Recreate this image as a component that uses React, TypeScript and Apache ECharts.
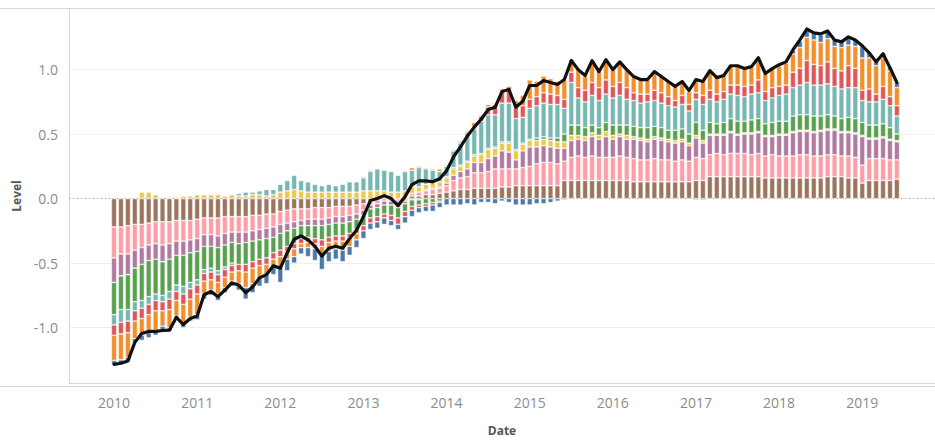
import React, { useEffect, useRef } from 'react';
import * as echarts from 'echarts';

const START_YEAR = 2010;
const MONTH_COUNT = 114; // Jan 2010 .. Jun 2019
const PAD_LEFT = 6;
const PAD_RIGHT = 5;
const LEVEL_TICKS = [-1, -0.5, 0, 0.5, 1];

// monthly contributions, Jan 2010 .. Jun 2019 (114 months)
const BROWN = [
  -0.22, -0.22, -0.21, -0.2, -0.2, -0.19, -0.18, -0.18, -0.18, -0.17, -0.17, -0.17,
  -0.16, -0.15, -0.15, -0.15, -0.14, -0.14, -0.14, -0.14, -0.13, -0.13, -0.12, -0.12,
  -0.1, -0.09, -0.08, -0.08, -0.08, -0.07, -0.07, -0.07, -0.06, -0.06, -0.06, -0.05,
  -0.04, -0.02, -0.01, 0, 0, -0.01, 0.01, 0.02, 0.02, 0.03, 0.03, 0.04,
  0.05, 0.06, 0.07, 0.07, 0.08, 0.08, 0.08, 0.08, 0.09, 0.09, 0.1, 0.1,
  0.1, 0.1, 0.1, 0.1, 0.1, 0.14, 0.14, 0.14, 0.14, 0.14, 0.14, 0.14,
  0.14, 0.14, 0.14, 0.13, 0.13, 0.13, 0.13, 0.13, 0.13, 0.13, 0.13, 0.13,
  0.14, 0.14, 0.17, 0.17, 0.17, 0.17, 0.17, 0.17, 0.17, 0.17, 0.16, 0.16,
  0.16, 0.16, 0.16, 0.16, 0.16, 0.16, 0.16, 0.17, 0.17, 0.17, 0.16, 0.16,
  0.12, 0.14, 0.14, 0.14, 0.14, 0.15,
];
const PINK = [
  -0.24, -0.21, -0.22, -0.2, -0.18, -0.17, -0.17, -0.18, -0.17, -0.16, -0.16, -0.15,
  -0.15, -0.13, -0.13, -0.14, -0.13, -0.12, -0.12, -0.12, -0.12, -0.11, -0.11, -0.1,
  -0.1, -0.1, -0.1, -0.09, -0.08, -0.09, -0.09, -0.08, -0.08, -0.08, -0.07, -0.07,
  -0.05, -0.03, -0.03, -0.02, -0.02, -0.03, -0.02, 0.02, 0.03, 0.03, 0.04, 0.04,
  0.05, 0.08, 0.09, 0.1, 0.12, 0.12, 0.13, 0.15, 0.14, 0.14, 0.13, 0.14,
  0.15, 0.17, 0.18, 0.18, 0.17, 0.15, 0.18, 0.19, 0.18, 0.19, 0.18, 0.18,
  0.18, 0.19, 0.18, 0.18, 0.17, 0.17, 0.18, 0.17, 0.17, 0.16, 0.17, 0.16,
  0.18, 0.17, 0.17, 0.18, 0.17, 0.18, 0.18, 0.18, 0.17, 0.18, 0.17, 0.18,
  0.17, 0.17, 0.17, 0.18, 0.18, 0.17, 0.17, 0.17, 0.17, 0.16, 0.17, 0.16,
  0.14, 0.17, 0.17, 0.17, 0.16, 0.15,
];
const PURPLE = [
  -0.19, -0.17, -0.16, -0.14, -0.13, -0.12, -0.12, -0.13, -0.12, -0.11, -0.11, -0.1,
  -0.1, -0.09, -0.09, -0.09, -0.09, -0.08, -0.09, -0.08, -0.08, -0.08, -0.08, -0.08,
  -0.07, -0.06, -0.05, -0.04, -0.05, -0.05, -0.05, -0.05, -0.05, -0.05, -0.05, -0.04,
  -0.04, -0.03, -0.03, -0.03, -0.03, -0.03, -0.02, -0.01, -0.01, 0.01, 0.01, 0.01,
  0.02, 0.04, 0.05, 0.06, 0.08, 0.08, 0.1, 0.1, 0.14, 0.13, 0.07, 0.13,
  0.15, 0.13, 0.13, 0.12, 0.12, 0.1, 0.13, 0.13, 0.13, 0.15, 0.14, 0.16,
  0.14, 0.15, 0.14, 0.15, 0.15, 0.14, 0.15, 0.15, 0.14, 0.14, 0.14, 0.12,
  0.15, 0.12, 0.15, 0.14, 0.15, 0.16, 0.14, 0.15, 0.16, 0.16, 0.15, 0.14,
  0.16, 0.16, 0.18, 0.18, 0.18, 0.18, 0.19, 0.19, 0.19, 0.18, 0.18, 0.18,
  0.22, 0.15, 0.15, 0.16, 0.15, 0.14,
];
const YELLOW = [
  0, 0, 0, 0, 0.05, 0.05, 0.03, 0, 0.01, 0.01, 0.02, 0.02,
  0.03, 0.03, 0.03, 0.03, 0.02, 0.03, 0.02, 0.02, 0.03, 0.03, 0.02, 0.03,
  0.05, 0.06, 0.07, 0.06, 0.05, 0.05, 0.05, 0.05, 0.05, 0.05, 0.05, 0.05,
  0.06, 0.06, 0.06, 0.06, 0.05, 0.05, 0.05, 0.05, 0.04, 0.04, 0.04, 0.04,
  0.04, 0.05, 0.04, 0.05, 0.05, 0.06, 0.07, 0.06, 0.06, 0.07, 0.07, 0.05,
  0.05, 0.05, 0.05, 0.05, 0.05, 0.05, 0.04, 0.03, 0.03, 0.03, 0.03, 0.04,
  0.03, 0.02, 0.03, 0.02, 0.02, 0.02, 0.02, 0.02, 0.02, 0.02, 0.02, 0.02,
  0.02, 0.02, 0.01, 0.01, 0.01, 0.01, 0.01, 0.01, 0.01, 0.01, 0.01, 0.01,
  0.01, 0.01, 0.01, 0.01, 0.01, 0.01, 0.01, 0.01, 0.01, 0.01, 0.01, 0.01,
  0.01, 0.01, 0.01, 0.01, 0.01, 0.01,
];
const GREEN = [
  -0.25, -0.26, -0.27, -0.26, -0.28, -0.28, -0.27, -0.26, -0.25, -0.23, -0.24, -0.23,
  -0.22, -0.18, -0.17, -0.18, -0.17, -0.16, -0.16, -0.17, -0.16, -0.15, -0.15, -0.12,
  -0.13, -0.12, -0.12, -0.1, -0.09, -0.1, -0.11, -0.1, -0.1, -0.1, -0.09, -0.08,
  -0.08, -0.07, -0.07, -0.07, -0.08, -0.08, -0.06, -0.05, -0.04, -0.04, -0.03, -0.02,
  0.01, 0.01, 0.01, 0.01, 0.01, 0.01, 0.01, 0.01, 0.01, 0.01, 0.01, 0.01,
  0.01, 0.02, 0.02, 0.02, 0.03, 0.06, 0.08, 0.08, 0.07, 0.06, 0.06, 0.07,
  0.08, 0.07, 0.08, 0.08, 0.08, 0.09, 0.08, 0.08, 0.07, 0.08, 0.08, 0.07,
  0.1, 0.08, 0.09, 0.08, 0.09, 0.1, 0.1, 0.09, 0.1, 0.1, 0.09, 0.1,
  0.1, 0.1, 0.12, 0.12, 0.12, 0.12, 0.11, 0.11, 0.1, 0.1, 0.11, 0.11,
  0.1, 0.1, 0.1, 0.1, 0.09, 0.05,
];
const TEAL = [
  -0.08, -0.1, -0.09, -0.07, -0.06, -0.06, -0.05, -0.05, -0.06, -0.05, -0.06, -0.05,
  -0.04, -0.03, -0.03, -0.03, -0.02, -0.02, 0.02, 0.03, 0.02, 0.03, 0.05, 0.04,
  0.06, 0.08, 0.11, 0.08, 0.08, 0.06, 0.05, 0.06, 0.05, 0.06, 0.08, 0.08,
  0.1, 0.15, 0.17, 0.16, 0.16, 0.13, 0.15, 0.13, 0.15, 0.12, 0.1, 0.08,
  0.08, 0.13, 0.17, 0.22, 0.2, 0.25, 0.26, 0.25, 0.3, 0.3, 0.24, 0.2,
  0.24, 0.25, 0.26, 0.26, 0.26, 0.2, 0.33, 0.21, 0.2, 0.23, 0.21, 0.22,
  0.21, 0.23, 0.2, 0.2, 0.19, 0.2, 0.2, 0.19, 0.19, 0.18, 0.19, 0.18,
  0.18, 0.2, 0.18, 0.17, 0.18, 0.19, 0.2, 0.19, 0.2, 0.2, 0.18, 0.19,
  0.2, 0.21, 0.22, 0.23, 0.25, 0.24, 0.24, 0.24, 0.23, 0.23, 0.23, 0.24,
  0.17, 0.18, 0.18, 0.19, 0.17, 0.14,
];
const RED = [
  -0.08, -0.09, -0.09, -0.08, -0.08, -0.08, -0.08, -0.07, -0.08, -0.07, -0.08, -0.08,
  -0.07, -0.06, -0.06, -0.06, -0.06, -0.05, -0.05, -0.06, -0.05, -0.05, -0.05, -0.05,
  -0.05, -0.04, -0.04, -0.04, -0.04, -0.04, -0.05, -0.04, -0.04, -0.04, -0.03, -0.03,
  -0.04, -0.04, -0.04, -0.03, -0.04, -0.05, -0.04, -0.03, -0.02, -0.02, -0.02, -0.01,
  0, 0, 0.01, 0.01, 0.01, 0.04, 0.06, 0.08, 0.09, 0.1, 0.09, 0.09,
  0.07, 0.07, 0.08, 0.08, 0.07, 0.07, 0.08, 0.08, 0.09, 0.1, 0.1, 0.11,
  0.09, 0.1, 0.09, 0.06, 0.07, 0.06, 0.08, 0.08, 0.07, 0.05, 0.07, 0.05,
  0.05, 0.07, 0.07, 0.06, 0.06, 0.07, 0.08, 0.08, 0.07, 0.1, 0.07, 0.08,
  0.07, 0.07, 0.12, 0.13, 0.17, 0.16, 0.15, 0.17, 0.14, 0.14, 0.17, 0.15,
  0.08, 0.1, 0.06, 0.1, 0.07, 0.08,
];
const ORANGE = [
  -0.195, -0.2, -0.19, -0.135, -0.13, -0.14, -0.15, -0.12, -0.14, -0.12, -0.15, -0.14,
  -0.16, -0.1, -0.08, -0.09, -0.08, -0.07, -0.1, -0.12, -0.12, -0.1, -0.08, -0.06,
  -0.08, -0.06, -0.06, -0.03, -0.04, -0.04, -0.06, -0.07, -0.06, -0.07, -0.07, -0.05,
  0.01, 0.01, 0, 0, 0, 0, 0, 0.02, 0.01, 0.01, 0.01, 0.02,
  0.01, 0.01, 0.01, 0.01, 0.04, 0.01, 0.02, 0.01, 0.02, 0.03, 0.05, 0.08,
  0.15, 0.12, 0.13, 0.12, 0.11, 0.15, 0.1, 0.15, 0.11, 0.17, 0.13, 0.16,
  0.13, 0.16, 0.14, 0.12, 0.12, 0.11, 0.14, 0.13, 0.12, 0.11, 0.11, 0.1,
  0.11, 0.12, 0.15, 0.13, 0.13, 0.15, 0.15, 0.14, 0.14, 0.17, 0.14, 0.15,
  0.16, 0.17, 0.14, 0.16, 0.18, 0.19, 0.18, 0.18, 0.17, 0.18, 0.16, 0.17,
  0.25, 0.24, 0.22, 0.22, 0.2, 0.14,
];
const BLUE = [
  -0.03, -0.03, -0.03, -0.03, -0.04, -0.04, -0.04, -0.03, -0.03, -0.02, -0.03, -0.03,
  -0.04, -0.04, -0.04, -0.05, -0.04, -0.04, -0.05, -0.09, -0.07, -0.06, -0.07, -0.06,
  -0.12, -0.09, -0.05, -0.05, -0.07, -0.09, -0.12, -0.08, -0.08, -0.09, -0.07, -0.06,
  -0.06, -0.05, -0.05, -0.05, -0.04, -0.04, -0.05, -0.05, -0.04, -0.04, -0.05, -0.04,
  -0.05, -0.05, -0.05, -0.04, -0.05, -0.03, -0.03, -0.04, -0.02, -0.03, -0.05, -0.05,
  -0.05, -0.04, -0.04, -0.03, -0.02, -0.01, 0, 0, 0, 0, 0, 0,
  0, 0, 0, 0, 0, 0, 0, 0, 0, 0, 0, 0,
  -0.01, -0.01, 0, 0, 0, 0, 0, 0, 0, 0, 0, 0,
  0, 0.01, 0.03, 0.05, 0.06, 0.05, 0.06, 0.06, 0.05, 0.05, 0.06, 0.05,
  0.09, 0.04, 0.03, 0.04, 0.03, 0.04,
];
const LEVEL = [
  -1.285, -1.277, -1.26, -1.115, -1.046, -1.03, -1.03, -1.023, -1.02, -0.92, -0.977, -0.93,
  -0.91, -0.746, -0.72, -0.76, -0.71, -0.654, -0.67, -0.73, -0.685, -0.615, -0.59, -0.52,
  -0.54, -0.42, -0.315, -0.29, -0.32, -0.37, -0.446, -0.385, -0.37, -0.385, -0.31, -0.246,
  -0.14, -0.015, 0, 0.023, 0, -0.054, 0.015, 0.108, 0.138, 0.138, 0.13, 0.154,
  0.215, 0.323, 0.4, 0.485, 0.554, 0.615, 0.69, 0.708, 0.83, 0.846, 0.708, 0.754,
  0.877, 0.877, 0.915, 0.9, 0.885, 0.923, 1.07, 1.0, 0.954, 1.07, 0.985, 1.077,
  1.0, 1.06, 1.0, 0.946, 0.923, 0.923, 0.985, 0.946, 0.908, 0.87, 0.908, 0.838,
  0.923, 0.908, 0.992, 0.938, 0.954, 1.03, 1.03, 1.008, 1.023, 1.092, 0.97, 1.008,
  1.038, 1.06, 1.154, 1.23, 1.315, 1.285, 1.277, 1.3, 1.23, 1.215, 1.254, 1.23,
  1.185, 1.13, 1.06, 1.123, 1.015, 0.9,
];

const COMPONENTS = [
  { name: 'Brown', color: '#9c755f', data: BROWN },
  { name: 'Pink', color: '#ff9da7', data: PINK },
  { name: 'Purple', color: '#b07aa1', data: PURPLE },
  { name: 'Yellow', color: '#edc948', data: YELLOW },
  { name: 'Green', color: '#59a14f', data: GREEN },
  { name: 'Teal', color: '#76b7b2', data: TEAL },
  { name: 'Red', color: '#e15759', data: RED },
  { name: 'Orange', color: '#f28e2b', data: ORANGE },
  { name: 'Blue', color: '#4e79a7', data: BLUE },
];

function monthCategories(): string[] {
  const out: string[] = [];
  for (let k = 0; k < PAD_LEFT; k++) out.push('pad-l' + k);
  for (let i = 0; i < MONTH_COUNT; i++) {
    const y = START_YEAR + Math.floor(i / 12);
    const m = (i % 12) + 1;
    out.push(y + '-' + (m < 10 ? '0' + m : String(m)));
  }
  for (let k = 0; k < PAD_RIGHT; k++) out.push('pad-r' + k);
  return out;
}

function padded(arr: number[]): (number | null)[] {
  const left: null[] = new Array(PAD_LEFT).fill(null);
  const right: null[] = new Array(PAD_RIGHT).fill(null);
  return [...left, ...arr, ...right];
}

export default function App() {
  const ref = useRef<HTMLDivElement>(null);

  useEffect(() => {
    document.body.style.margin = '0';
    const chart = echarts.init(ref.current!, null, { renderer: 'svg' });
    const font = "'Open Sans', 'Noto Sans', sans-serif";
    const cats = monthCategories();

    const barSeries: any[] = COMPONENTS.map((c, k) => ({
      name: c.name,
      type: 'bar',
      stack: 'total',
      barWidth: 5.3,
      data: padded(c.data),
      itemStyle: { color: c.color, borderColor: 'rgba(255,255,255,0.8)', borderWidth: 0.6 },
      ...(k === 0
        ? {
            markLine: {
              silent: true,
              symbol: 'none',
              z: 1,
              label: { show: false },
              lineStyle: { type: [1, 3], color: '#9a9a9a', width: 1 },
              data: [{ yAxis: 0 }],
            },
          }
        : {}),
    }));

    chart.setOption({
      animation: false,
      textStyle: { fontFamily: font },
      grid: { left: 69, right: 0, top: 9, bottom: 55 },
      graphic: [
        { type: 'line', shape: { x1: 0, y1: 8.5, x2: 935, y2: 8.5 }, style: { stroke: '#d8d8d8', lineWidth: 1 } },
        { type: 'line', shape: { x1: 0, y1: 386.5, x2: 935, y2: 386.5 }, style: { stroke: '#d8d8d8', lineWidth: 1 } },
      ],
      xAxis: {
        type: 'category',
        data: cats,
        boundaryGap: true,
        name: 'Date',
        nameLocation: 'middle',
        nameGap: 41,
        nameTextStyle: { fontFamily: font, fontSize: 12, fontWeight: 'bold', color: '#555' },
        axisLine: { show: true, onZero: false, lineStyle: { color: '#d8d8d8' } },
        axisTick: { show: false },
        splitLine: { show: false },
        axisLabel: {
          interval: (_idx: number, value: string) => value.endsWith('-01'),
          formatter: (value: string) => value.slice(0, 4),
          color: '#8c8c8c',
          fontSize: 14,
          fontFamily: font,
          margin: 12,
        },
      },
      yAxis: {
        type: 'value',
        min: -1.43,
        max: 1.47,
        name: 'Level',
        nameLocation: 'middle',
        nameGap: 46,
        nameTextStyle: { fontFamily: font, fontSize: 12, fontWeight: 'bold', color: '#555' },
        axisLine: { show: true, onZero: false, lineStyle: { color: '#d8d8d8' } },
        axisTick: { show: false, customValues: LEVEL_TICKS },
        splitLine: { show: true, lineStyle: { color: '#eeeeee', width: 1 } },
        axisLabel: {
          customValues: LEVEL_TICKS,
          formatter: (v: number) => v.toFixed(1),
          color: '#8c8c8c',
          fontSize: 14,
          fontFamily: font,
          margin: 11,
        },
      },
      series: [
        ...barSeries,
        {
          name: 'Level',
          type: 'line',
          z: 5,
          data: padded(LEVEL),
          symbol: 'none',
          connectNulls: false,
          lineStyle: { color: '#111', width: 3.2, join: 'round', cap: 'round' },
        },
      ],
    });

    return () => chart.dispose();
  }, []);

  return <div ref={ref} style={{ width: 935, height: 441 }} />;
}
